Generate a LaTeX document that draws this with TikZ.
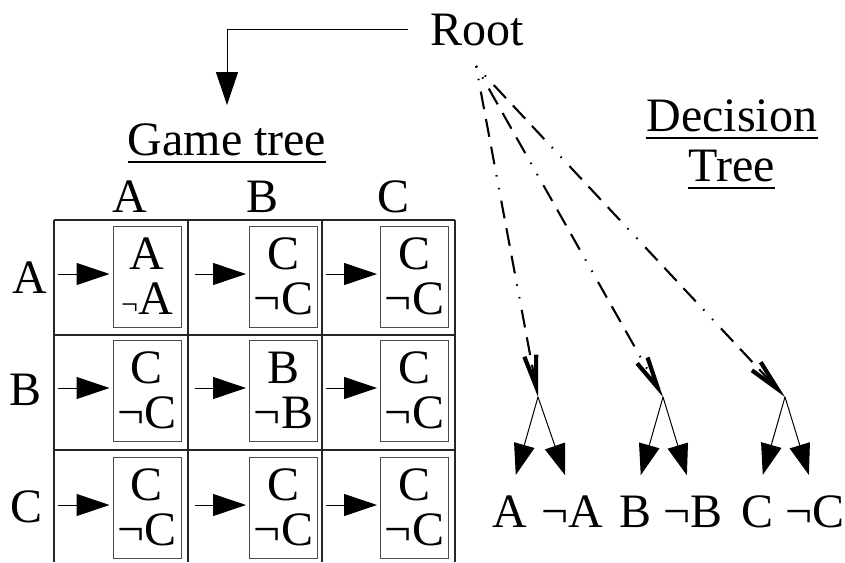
\documentclass[tikz,border=0pt]{standalone}
\usepackage{fontspec}
\setmainfont{Liberation Serif}
\usetikzlibrary{arrows.meta}

\begin{document}
\begin{tikzpicture}[x=1pt,y=-1pt,
  txt/.style={font=\fontsize{48}{45}\selectfont, inner sep=0pt, anchor=base},
  cellbox/.style={draw=black!70, line width=1pt, minimum width=68pt,
    minimum height=101pt, inner sep=0pt, align=center,
    font=\fontsize{48}{45}\selectfont},
  gridline/.style={line width=1.3pt, black!85},
  uline/.style={line width=2.4pt},
  feed/.style={line width=1pt, -{Triangle[length=33pt,width=22pt]}},
  branch/.style={line width=1pt, -{Triangle[length=31pt,width=21pt]}},
  probe/.style={line width=2.1pt,
    dash pattern=on 1.5pt off 11.5pt on 1.5pt off 11.5pt on 18pt off 10pt on 18pt off 10pt on 18pt off 11pt,
    -{Straight Barb[length=31pt,width=12pt,line width=4.2pt]}},
]
\useasboundingbox (0,0) rectangle (845,562);

% --- titles -------------------------------------------------------------
\node[txt] (root) at (477,45) {Root};
\node[txt] (gt)   at (227,155) {Game tree};
\node[txt] (dec)  at (732,131) {Decision};
\node[txt] (tre)  at (731.5,181) {Tree};
\foreach \n in {gt,dec,tre}
  \draw[uline] ([yshift=-7pt]\n.base west) -- ([yshift=-7pt]\n.base east);

% root feeds the game tree
\draw[line width=1pt, -{Triangle[length=33pt,width=22pt]}, shorten <=22pt, shorten >=18pt]
  (root.west) -| (gt.north);

% --- game tree grid -----------------------------------------------------
\foreach \x in {54,188,322,455}
  \draw[gridline] (\x,220) -- (\x,562);
\foreach \y in {220,335,450}
  \draw[gridline] (54,\y) -- (455,\y);

% column and row headings
\node[txt] (ca) at (130,212) {A};
\node[txt] (cb) at (263,212) {B};
\node[txt] (cc) at (394,212) {C};
\node[txt] (ra) at (30,293) {A};
\node[txt] (rb) at (26,405) {B};
\node[txt] (rc) at (27,522) {C};

% cells
\node[cellbox] (c11) at (147,276.5) {A\\{\fontsize{30}{30}\selectfont ¬}A};
\node[cellbox] (c12) at (283.5,276.5) {C\\¬C};
\node[cellbox] (c13) at (414.5,276.5) {C\\¬C};
\node[cellbox] (c21) at (147,390.5) {C\\¬C};
\node[cellbox] (c22) at (283.5,390.5) {B\\¬B};
\node[cellbox] (c23) at (414.5,390.5) {C\\¬C};
\node[cellbox] (c31) at (147,507.5) {C\\¬C};
\node[cellbox] (c32) at (283.5,507.5) {C\\¬C};
\node[cellbox] (c33) at (414.5,507.5) {C\\¬C};

% arrows entering each cell
\foreach \r/\y in {1/274,2/388,3/505}
  \foreach \c/\x in {1/58,2/195,3/326} {
    \coordinate (s\r\c) at (\x,\y);
    \draw[feed, shorten >=3pt] (s\r\c) -- (s\r\c -| c\r\c.west);
  }

% --- decision tree ------------------------------------------------------
\coordinate (fan) at (476,66);
\coordinate (d1) at (538,397);
\coordinate (d2) at (663,397);
\coordinate (d3) at (785,397);
\draw[probe] (fan) -- (d1);
\draw[probe] (fan) -- (d2);
\draw[probe] (fan) -- (d3);

\node[txt] (la)  at (510,527) {A};
\node[txt] (lna) at (572,527) {¬A};
\node[txt] (lb)  at (635,527) {B};
\node[txt] (lnb) at (693,527) {¬B};
\node[txt] (lc)  at (757,527) {C};
\node[txt] (lnc) at (815,527) {¬C};

\foreach \d/\p/\q in {d1/la/lna, d2/lb/lnb, d3/lc/lnc} {
  \draw[branch, shorten >=21pt] (\d) -- (\p.north);
  \draw[branch, shorten >=21pt] (\d) -- (\q.north);
}
\end{tikzpicture}
\end{document}
